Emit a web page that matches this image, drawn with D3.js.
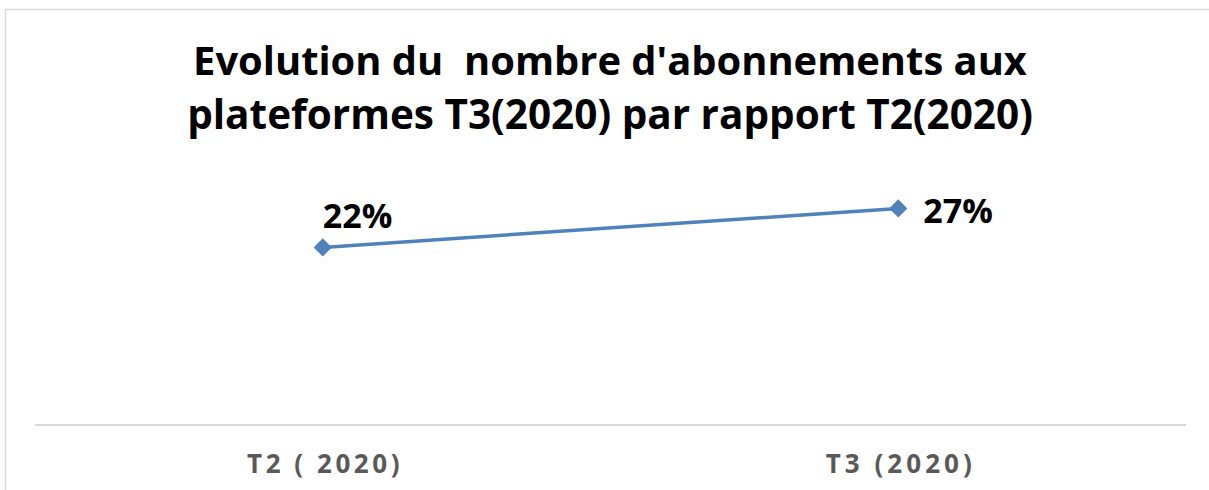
<!DOCTYPE html>
<html>
<head>
<meta charset="utf-8">
<script src="https://cdn.jsdelivr.net/npm/d3@7"></script>
<style>
  html, body { margin: 0; padding: 0; background: #fff; }
  svg { display: block; }
</style>
</head>
<body>
<svg id="chart" width="1209" height="490"></svg>
<script>
const titleLines = ["Evolution du  nombre d'abonnements aux", "plateformes T3(2020) par rapport T2(2020)"];
const categories = ["T2 ( 2020)", "T3 (2020)"];
const values = [22, 27];
const valueLabels = ["22%", "27%"];

const W = 1209, H = 490;
const svg = d3.select("#chart");

// chart border
svg.append("rect")
  .attr("x", 5.5).attr("y", 9.5)
  .attr("width", W + 10).attr("height", H + 10)
  .attr("fill", "#fff").attr("stroke", "#d9d9d9").attr("stroke-width", 1.5);

// title
const titleFont = "'Open Sans', 'DejaVu Sans', sans-serif";
const titleWidths = [834, 846];
const titleBaselines = [75, 129];
titleLines.forEach((t, i) => {
  const txt = svg.append("text")
    .attr("x", 610).attr("y", titleBaselines[i])
    .attr("text-anchor", "middle")
    .style("white-space", "pre")
    .attr("font-family", titleFont)
    .attr("font-weight", "bold")
    .attr("font-size", 36)
    .attr("fill", "#000")
    .text(t);
  const w = txt.node().getComputedTextLength();
  txt.attr("font-size", 36 * titleWidths[i] / w);
});

const x = d3.scalePoint().domain(categories).range([35, 1186]).padding(0.5);
const y = d3.scaleLinear().domain([0, 30]).range([419, 185]);

// x axis
const axisG = svg.append("g").attr("transform", "translate(0,425)")
  .call(d3.axisBottom(x).tickSize(0).tickPadding(0));
axisG.select(".domain").attr("stroke", "#d9d9d9").attr("stroke-width", 2)
  .attr("d", "M35,0H1186");
const tickWidths = [156, 150];
axisG.selectAll(".tick text")
  .attr("y", 48).attr("dy", null)
  .style("font-family", "'Open Sans', sans-serif")
  .style("font-weight", "bold")
  .style("font-size", "26px")
  .style("letter-spacing", "0px")
  .attr("fill", "#595959")
  .style("white-space", "pre")
  .each(function (d, i) {
    const n = this.textContent.length;
    const w0 = this.getComputedTextLength();
    const ls = Math.max(0, (tickWidths[i] - w0) / n);
    d3.select(this).style("letter-spacing", ls + "px")
      .attr("dx", ls / 2);
  });

// line
const data = categories.map((c, i) => ({ c, v: values[i], l: valueLabels[i] }));
svg.append("path")
  .datum(data)
  .attr("fill", "none")
  .attr("stroke", "#4f81bd")
  .attr("stroke-width", 3.5)
  .attr("d", d3.line().x(d => x(d.c)).y(d => y(d.v)));

// markers
svg.selectAll(".mk").data(data).enter().append("path")
  .attr("class", "mk")
  .attr("transform", d => `translate(${x(d.c)},${y(d.v)})`)
  .attr("d", d3.symbol().type(d3.symbolDiamond2).size(210))
  .attr("fill", "#4f81bd");

// data labels
const lblOff = [[0, -19], [25, 15]];
svg.selectAll(".lbl").data(data).enter().append("text")
  .attr("class", "lbl")
  .attr("x", (d, i) => x(d.c) + lblOff[i][0])
  .attr("y", (d, i) => y(d.v) + lblOff[i][1])
  .attr("font-family", titleFont)
  .attr("font-weight", "bold")
  .attr("font-size", 34)
  .attr("fill", "#000")
  .text(d => d.l);
</script>
</body>
</html>
